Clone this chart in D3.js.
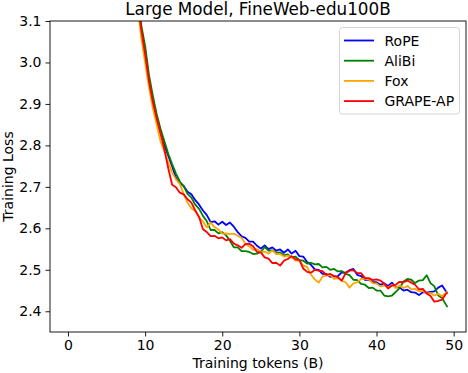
<!DOCTYPE html>
<html>
<head>
<meta charset="utf-8">
<script src="https://cdn.jsdelivr.net/npm/d3@7"></script>
<style>
  body{margin:0;background:#fff;}
  svg text{font-family:"DejaVu Sans",sans-serif;fill:#000;}
</style>
</head>
<body>
<div id="chart"></div>
<script>
var tokens = [0.5,2,4,6,8,8.5,
  9,9.5,10,10.5,11,11.5,12,12.5,13,13.5,
  14,14.5,15,15.5,16,16.5,17,17.5,18,18.5,
  19,19.5,20,20.5,21,21.5,22,22.5,23,23.5,
  24,24.5,25,25.5,26,26.5,27,27.5,28,28.5,
  29,29.5,30,30.5,31,31.5,32,32.5,33,33.5,
  34,34.5,35,35.5,36,36.5,37,37.5,38,38.5,
  39,39.5,40,40.5,41,41.5,42,42.5,43,43.5,
  44,44.5,45,45.5,46,46.5,47,47.5,48,48.5,
  49,49.2];

var rope = [9.5,4.6,3.75,3.45,3.27,3.21,
  3.16,3.08,3.03,2.96,2.91,2.87,2.83,2.80,2.775,2.75,
  2.722,2.708,2.702,2.688,2.682,2.668,2.657,2.643,2.632,2.615,
  2.617,2.609,2.616,2.608,2.614,2.604,2.591,2.581,2.577,2.568,
  2.568,2.558,2.551,2.559,2.55,2.554,2.546,2.549,2.541,2.549,
  2.539,2.546,2.533,2.532,2.519,2.512,2.501,2.5,2.49,2.49,
  2.483,2.484,2.485,2.494,2.493,2.499,2.502,2.488,2.485,2.476,
  2.476,2.47,2.47,2.464,2.467,2.461,2.469,2.458,2.457,2.45,
  2.452,2.446,2.445,2.439,2.446,2.445,2.447,2.448,2.457,2.462,
  2.448,2.444];

var alibi = [9.6,4.7,3.8,3.48,3.29,3.22,
  3.17,3.09,3.04,2.97,2.92,2.875,2.84,2.81,2.78,2.755,
  2.732,2.713,2.702,2.683,2.674,2.657,2.647,2.63,2.617,2.596,
  2.596,2.588,2.591,2.583,2.57,2.554,2.554,2.545,2.545,2.543,
  2.538,2.539,2.543,2.555,2.546,2.547,2.541,2.542,2.535,2.537,
  2.53,2.532,2.523,2.522,2.515,2.517,2.513,2.514,2.506,2.507,
  2.5,2.502,2.496,2.497,2.49,2.487,2.476,2.475,2.466,2.464,
  2.456,2.457,2.45,2.45,2.438,2.436,2.438,2.447,2.456,2.472,
  2.478,2.476,2.468,2.474,2.475,2.487,2.468,2.46,2.438,2.432,
  2.416,2.41];

var fox = [9.4,4.5,3.7,3.42,3.24,3.19,
  3.14,3.06,3.0,2.94,2.89,2.85,2.81,2.785,2.76,2.735,
  2.718,2.707,2.683,2.662,2.648,2.642,2.626,2.617,2.602,2.614,
  2.603,2.597,2.587,2.588,2.586,2.587,2.582,2.577,2.563,2.557,
  2.548,2.55,2.543,2.544,2.539,2.547,2.538,2.538,2.532,2.534,
  2.53,2.522,2.522,2.51,2.507,2.488,2.477,2.469,2.484,2.486,
  2.487,2.478,2.48,2.473,2.47,2.457,2.467,2.47,2.478,2.479,
  2.477,2.468,2.467,2.46,2.462,2.457,2.464,2.456,2.462,2.456,
  2.461,2.453,2.454,2.448,2.449,2.443,2.444,2.438,2.442,2.436,
  2.445,2.447];

var grape = [9.5,4.6,3.74,3.44,3.26,3.2,
  3.15,3.08,3.02,2.955,2.905,2.865,2.83,2.79,2.745,2.705,
  2.699,2.686,2.682,2.67,2.662,2.643,2.627,2.598,2.591,2.581,
  2.582,2.576,2.578,2.571,2.574,2.563,2.559,2.553,2.562,2.563,
  2.557,2.543,2.542,2.53,2.527,2.516,2.517,2.51,2.522,2.526,
  2.533,2.525,2.524,2.503,2.495,2.493,2.5,2.498,2.497,2.488,
  2.49,2.485,2.482,2.474,2.492,2.498,2.499,2.492,2.492,2.48,
  2.48,2.475,2.477,2.474,2.467,2.455,2.462,2.464,2.471,2.47,
  2.474,2.469,2.464,2.453,2.454,2.443,2.437,2.423,2.425,2.428,
  2.442,2.445];

var seriesNames = ["RoPE","AliBi","Fox","GRAPE-AP"];
var seriesColors = ["blue","green","orange","red"];
var seriesValues = [rope,alibi,fox,grape];
var xTicks = [0,10,20,30,40,50];
var yTicks = [2.4,2.5,2.6,2.7,2.8,2.9,3.0,3.1];

var width = 468;
var height = 373;
var plotLeft = 50, plotRight = 466, plotTop = 21, plotBottom = 332;

var svg = d3.select("#chart")
    .append("svg")
    .attr("width",width)
    .attr("height",height);

var xScale = d3.scaleLinear()
    .domain([-2.33,51.6])
    .range([plotLeft,plotRight]);

var yScale = d3.scaleLinear()
    .domain([2.35,3.1])
    .range([plotBottom,plotTop]);

svg.append("defs").append("clipPath")
    .attr("id","plotclip")
    .append("rect")
    .attr("x",plotLeft)
    .attr("y",plotTop)
    .attr("width",plotRight-plotLeft)
    .attr("height",plotBottom-plotTop);

var line = d3.line()
    .x(function(d){ return xScale(d[0]); })
    .y(function(d){ return yScale(d[1]); });

var lines = svg.append("g").attr("clip-path","url(#plotclip)");
seriesValues.forEach(function(vals,i){
  lines.append("path")
      .datum(d3.zip(tokens,vals))
      .attr("fill","none")
      .attr("stroke",seriesColors[i])
      .attr("stroke-width",1.8)
      .attr("stroke-linejoin","round")
      .attr("d",line);
});

// axes
var xAxis = d3.axisBottom(xScale).tickValues(xTicks).tickSize(4.5).tickPadding(4).tickFormat(d3.format("d"));
var yAxis = d3.axisLeft(yScale).tickValues(yTicks).tickSize(4.5).tickPadding(4).tickFormat(d3.format(".1f"));

var gx = svg.append("g")
    .attr("transform","translate(0,"+plotBottom+")")
    .call(xAxis);
var gy = svg.append("g")
    .attr("transform","translate("+plotLeft+",0)")
    .call(yAxis);
[gx,gy].forEach(function(g){
  g.select(".domain").remove();
  g.selectAll("line").attr("stroke","#000").attr("stroke-width",0.9);
  g.selectAll("text").attr("font-size",14).attr("fill","#000");
});

svg.append("rect")
    .attr("x",plotLeft)
    .attr("y",plotTop)
    .attr("width",plotRight-plotLeft)
    .attr("height",plotBottom-plotTop)
    .attr("fill","none")
    .attr("stroke","#000")
    .attr("stroke-width",0.9);

svg.append("text")
    .attr("x",(plotLeft+plotRight)/2)
    .attr("y",15)
    .attr("text-anchor","middle")
    .attr("font-size",16.8)
    .text("Large Model, FineWeb-edu100B");

svg.append("text")
    .attr("x",(plotLeft+plotRight)/2)
    .attr("y",368)
    .attr("text-anchor","middle")
    .attr("font-size",14)
    .text("Training tokens (B)");

svg.append("text")
    .attr("transform","translate(13,"+((plotTop+plotBottom)/2)+") rotate(-90)")
    .attr("text-anchor","middle")
    .attr("font-size",14)
    .text("Training Loss");

// legend
var legend = svg.append("g");
legend.append("rect")
    .attr("x",339.5)
    .attr("y",27.5)
    .attr("width",120)
    .attr("height",86.5)
    .attr("rx",3)
    .attr("fill","#fff")
    .attr("fill-opacity",0.8)
    .attr("stroke","#d0d0d0")
    .attr("stroke-width",0.9);
seriesNames.forEach(function(name,i){
  var y = 40.5+i*20.2;
  legend.append("line")
      .attr("x1",344)
      .attr("x2",374)
      .attr("y1",y)
      .attr("y2",y)
      .attr("stroke",seriesColors[i])
      .attr("stroke-width",1.8);
  legend.append("text")
      .attr("x",384.5)
      .attr("y",y+5)
      .attr("font-size",14)
      .text(name);
});
</script>
</body>
</html>
